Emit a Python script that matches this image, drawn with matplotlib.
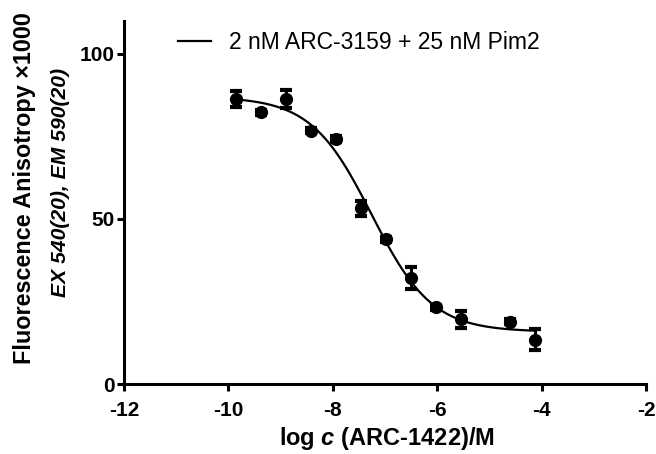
import numpy as np
import matplotlib
matplotlib.use("Agg")
import matplotlib.pyplot as plt

plt.rcParams['font.family'] = ['Liberation Sans', 'DejaVu Sans']
plt.rcParams['mathtext.fontset'] = 'custom'
plt.rcParams['mathtext.it'] = 'Liberation Sans:italic:bold'

# log concentration of ARC-1422 (M), 3-fold dilution series
log_c = [-9.86, -9.38, -8.90, -8.42, -7.94, -7.46, -6.98, -6.51, -6.03, -5.55, -4.60, -4.12]
# fluorescence anisotropy x1000
fa = [86.4, 82.3, 86.4, 76.8, 74.2, 53.2, 43.8, 32.2, 23.2, 19.6, 18.9, 13.5]
# SD (small ones hidden behind the symbol)
fa_err = [2.5, 0.8, 2.7, 0.8, 0.8, 2.4, 0.8, 3.4, 0.8, 2.5, 0.8, 3.1]

x_ticks = [-12, -10, -8, -6, -4, -2]
y_ticks = [0, 50, 100]
legend_label = "2 nM ARC-3159 + 25 nM Pim2"


def fit_4pl(x, y):
    # crude least squares fit of a sigmoidal dose-response curve
    x = np.asarray(x)
    y = np.asarray(y)
    best = None
    for lic in np.linspace(-8.5, -6.0, 251):
        for h in np.linspace(0.4, 2.0, 161):
            f = 1.0 / (1.0 + 10 ** ((x - lic) * h))
            A = np.column_stack([np.ones_like(f), f])
            coef, *_ = np.linalg.lstsq(A, y, rcond=None)
            ss = np.sum((A @ coef - y) ** 2)
            if best is None or ss < best[0]:
                best = (ss, lic, h, coef)
    _, lic, h, coef = best
    return lambda xx: coef[0] + coef[1] / (1.0 + 10 ** ((xx - lic) * h))


curve = fit_4pl(log_c, fa)
xs = np.linspace(min(log_c), max(log_c), 300)

fig = plt.figure(figsize=(6.56, 4.54), dpi=100)
ax = fig.add_axes([0.189, 0.154, 0.796, 0.800])

ax.plot(xs, curve(xs), color='black', lw=1.6, label=legend_label)
ax.errorbar(log_c, fa, yerr=fa_err, fmt='o', color='black', ms=8.5,
            elinewidth=2.2, capsize=4.3, capthick=3)

ax.set_xlim(-12, -2)
ax.set_ylim(0, 110)
ax.set_xticks(x_ticks)
ax.set_yticks(y_ticks)
ax.set_xticklabels([str(t) for t in x_ticks], fontsize=15, fontweight='bold')
ax.set_yticklabels([str(t) for t in y_ticks], fontsize=15, fontweight='bold')
ax.tick_params(width=2.2, length=5, direction='out')
ax.tick_params(axis='x', pad=7)
ax.tick_params(axis='y', pad=2)

for s in ['top', 'right']:
    ax.spines[s].set_visible(False)
for s in ['left', 'bottom']:
    ax.spines[s].set_linewidth(2.2)

ax.set_xlabel(r"log $\mathit{c}$ (ARC-1422)/M", fontsize=17, fontweight='bold', va='baseline')
ax.xaxis.set_label_coords(0.504, -0.168)

fig.text(0.0366, 0.586, "Fluorescence Anisotropy \u00d71000", rotation=90,
         fontsize=16.8, fontweight='bold', ha='center', va='center')
fig.text(0.092, 0.598, "EX 540(20), EM 590(20)", rotation=90,
         fontsize=15.2, fontweight='bold', style='italic', ha='center', va='center')

ax.legend(loc='upper center', bbox_to_anchor=(0.45, 1.03), frameon=False,
          fontsize=16.5, handlelength=1.4, handletextpad=0.8)

fig.savefig('out.png', dpi=100)
